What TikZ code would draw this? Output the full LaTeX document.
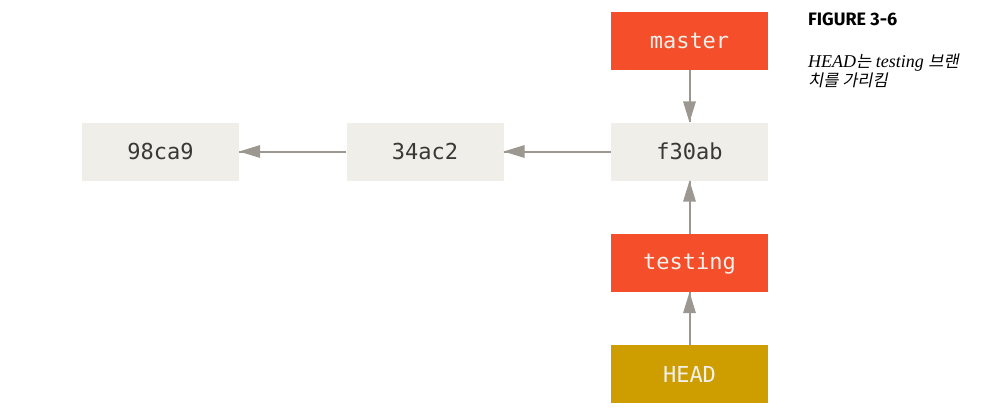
\documentclass[tikz,border=0pt]{standalone}
\usepackage{fontspec}
\setmainfont{Fira Sans}
\setmonofont{DejaVu Sans Mono}
\newfontfamily\capfont{Fira Sans}
\newfontfamily\capserif{Liberation Serif}
\newfontfamily\kofont[FakeSlant=0.2]{Noto Sans CJK KR}
\definecolor{commitgray}{HTML}{EFEEE8}
\definecolor{branchred}{HTML}{F44E2B}
\definecolor{headgold}{HTML}{CE9D00}
\definecolor{linkgray}{HTML}{9C9891}
\definecolor{textdark}{HTML}{3A3835}
\definecolor{textlight}{HTML}{F2F0EA}
\tikzset{
  commit/.style={fill=commitgray,text=textdark,minimum width=157pt,minimum height=58pt,font=\ttfamily\fontsize{22}{26}\selectfont},
  branch/.style={commit,fill=branchred,text=textlight},
  headptr/.style={commit,fill=headgold,text=textlight},
  link/.style={draw=linkgray,line width=2pt}
}
\begin{document}
\begin{tikzpicture}[x=1pt,y=1pt]
\tikzstyle{every node}+=[inner sep=0pt]
\useasboundingbox (0,0) rectangle (988,-416);
\node [commit] (c98ca9) at (160.5,-151.5) {98ca9};
\node [commit] (c34ac2) at (425,-151.5) {34ac2};
\node [commit] (cf30ab) at (689.5,-151.5) {f30ab};
\node [branch] (master) at (689.5,-40.5) {master};
\node [branch] (testing) at (689.5,-263) {testing};
\node [headptr] (head) at (689.5,-374) {HEAD};
\draw [link] (c34ac2.west) -- (c98ca9.east);
\fill [linkgray] (c98ca9.east) -- ++(21,6.5) -- ++(0,-13) -- cycle;
\draw [link] (cf30ab.west) -- (c34ac2.east);
\fill [linkgray] (c34ac2.east) -- ++(21,6.5) -- ++(0,-13) -- cycle;
\draw [link] (master.south) -- (cf30ab.north);
\fill [linkgray] (cf30ab.north) -- ++(-6.5,21) -- ++(13,0) -- cycle;
\draw [link] (testing.north) -- (cf30ab.south);
\fill [linkgray] (cf30ab.south) -- ++(-6.5,-21) -- ++(13,0) -- cycle;
\draw [link] (head.north) -- (testing.south);
\fill [linkgray] (testing.south) -- ++(-6.5,-21) -- ++(13,0) -- cycle;
\node [anchor=base west,font=\capfont\bfseries\fontsize{18}{21}\selectfont] (figtitle) at (808,-25) {FIGURE 3-6};
\node [anchor=base west,font=\capserif\itshape\fontsize{18}{21}\selectfont] (capline1) at (808,-67) {HEAD{\kofont\fontsize{16.5}{19}\selectfont 는} testing {\kofont\fontsize{16.5}{19}\selectfont 브랜}};
\node [anchor=base west,font=\kofont\fontsize{16.5}{19}\selectfont] (capline2) at (808,-86) {치를 가리킴};
\end{tikzpicture}
\end{document}
